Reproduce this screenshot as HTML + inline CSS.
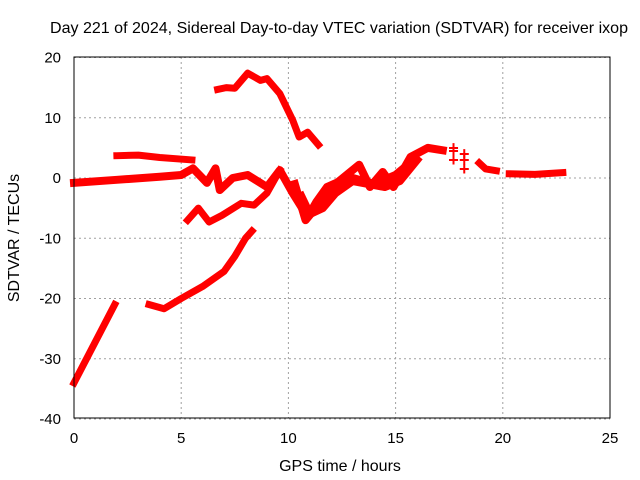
<!DOCTYPE html>
<html><head><meta charset="utf-8"><style>
body{margin:0;background:#fff}
svg{display:block;font-family:"Liberation Sans",sans-serif}
</style></head><body>
<svg id="chart" width="640" height="480">
<text x="339" y="33" text-anchor="middle" font-size="16" textLength="578" lengthAdjust="spacingAndGlyphs">Day 221 of 2024, Sidereal Day-to-day VTEC variation (SDTVAR) for receiver ixop</text>
<text x="340" y="471" text-anchor="middle" font-size="16">GPS time / hours</text>
<text transform="translate(19,238) rotate(-90)" text-anchor="middle" font-size="16">SDTVAR / TECUs</text>
<g id="grid"></g><g id="marks"></g>
<rect x="74" y="57" width="536" height="361" fill="none" stroke="#000" stroke-width="1"/>
</svg>
<script>
const xTicks=[0,5,10,15,20,25];
const yTicks=[20,10,0,-10,-20,-30,-40];
const trace1=[[0,-34],[1.9,-21]];
const trace2=[[0,-0.8],[2,-0.3],[4,0.2],[5,0.5],[5.55,1.6],[6.2,-0.8],[6.6,1.6],[6.8,-2],[7.4,0],[8.1,0.5],[9,-1.5],[9.6,1.3],[10.2,-2.5],[10.9,-6.5],[11.3,-4],[11.8,-1.5],[12.3,-0.7],[13.3,2.2],[13.8,-1.5],[14.4,1],[14.9,-1.5],[15.7,3.5],[16.5,5],[17.2,4.6]];
const trace2b=[[10.3,-1],[10.8,-7],[11.5,-4],[12.3,-1.5],[13,0],[14,-1],[15,0.5],[15.5,2]];
const trace2c=[[10.6,-3],[11,-6],[11.6,-5],[12.2,-2.5],[13,-0.5],[14.5,-1.5],[15.2,-0.5],[16,3]];
const trace3=[[2,3.7],[3,3.8],[4,3.4],[5.5,3]];
const trace4=[[5.3,-7],[5.8,-5],[6.3,-7.3],[6.9,-6.2],[7.8,-4.2],[8.4,-4.5],[9,-2.5],[9.6,1.3]];
const trace5=[[3.5,-21],[4.2,-21.7],[5,-20],[6,-18],[7,-15.5],[7.5,-13],[8,-10],[8.3,-8.8]];
const trace6=[[6.7,14.7],[7.1,15],[7.5,14.9],[8.1,17.4],[8.7,16.2],[9,16.5],[9.6,14],[10.2,9.6],[10.5,6.8],[10.9,7.6],[11.4,5.5]];
const trace7=[[18.9,2.5],[19.2,1.5],[19.7,1.2]];
const trace8=[[20.3,0.7],[21.5,0.6],[22.8,0.9]];
const scatterX=[17.7,17.7,17.7,18.2,18.2,18.2];
const scatterY=[3,4.5,5,1.5,3,4];
const X=h=>74+h*21.44, Y=v=>178-v*6.025;
const NS="http://www.w3.org/2000/svg";
const grid=document.getElementById('grid'), marks=document.getElementById('marks');
function mk(tag,attrs,parent){const e=document.createElementNS(NS,tag);for(const k in attrs)e.setAttribute(k,attrs[k]);parent.appendChild(e);return e;}
xTicks.forEach(t=>{
 const g=mk('line',{x1:X(t),x2:X(t),y1:57,y2:418,stroke:'#a0a0a0','stroke-dasharray':'2,3'},grid);
 
 
 const tx=mk('text',{x:X(t),y:443,'text-anchor':'middle','font-size':15},grid);tx.textContent=t;
 
 
});
yTicks.forEach(t=>{
 const g=mk('line',{x1:74,x2:610,y1:Y(t),y2:Y(t),stroke:'#a0a0a0','stroke-dasharray':'2,3'},grid);
 
 
 const tx=mk('text',{x:61,y:Y(t)+5,'text-anchor':'end','font-size':15},grid);tx.textContent=t;
 
 
});
[trace1,trace2,trace2b,trace2c,trace3,trace4,trace5,trace6,trace7,trace8].forEach((tr,i)=>{
 const p=mk('polyline',{points:tr.map(d=>X(d[0])+','+Y(d[1])).join(' '),fill:'none',stroke:'#f00','stroke-width':(i>=1&&i<=3)?8:7,'stroke-linejoin':'round','stroke-linecap':'square'},marks);
 
 
});
scatterX.forEach((x,i)=>{
 const t=mk('text',{x:X(x),y:Y(scatterY[i])+6,'text-anchor':'middle','font-size':18,fill:'#f00','font-weight':'bold'},marks);t.textContent='+';
 
 
});
</script>
</body></html>
